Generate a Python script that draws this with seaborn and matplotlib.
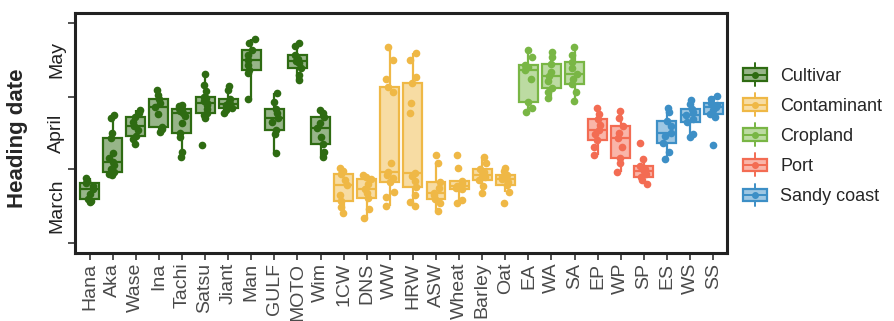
import numpy as np
import pandas as pd
import matplotlib
matplotlib.use("Agg")
import matplotlib.pyplot as plt
import matplotlib.colors as mcolors
from matplotlib.legend_handler import HandlerBase
from matplotlib.patches import Rectangle, Patch
from matplotlib.lines import Line2D
import seaborn as sns

# Heading dates as day of year, one list per accession
groups = ["Cultivar", "Contaminant", "Cropland", "Port", "Sandy coast"]
group_colors = ["#2e6b12", "#efb846", "#79b645", "#f36c53", "#3d8fc6"]

cultivar_names = ["Hana", "Aka", "Wase", "Ina", "Tachi", "Satsu", "Jiant",
                  "Man", "GULF", "MOTO", "Wim"]
cultivar_days = [
    [77.1, 77.6, 78.4, 80.5, 82.5, 84.0, 85.1, 86.0, 87.2],
    [88.5, 89.0, 89.5, 89.7, 91.0, 92.5, 93.9, 95.5, 97.6, 103.9, 106.0, 112.3, 113.5],
    [101.4, 103.5, 104.7, 107.0, 108.9, 110.5, 112.7, 114.3, 115.6],
    [106.4, 107.5, 108.5, 113.9, 116.8, 118.5, 120.2, 122.0, 124.0],
    [95.9, 98.0, 104.3, 106.0, 110.0, 113.0, 114.3, 115.0, 115.6, 116.0, 116.5, 117.2, 117.7],
    [101.0, 112.3, 113.5, 114.3, 116.0, 117.5, 118.5, 119.5, 120.5, 121.0, 123.5, 126.0, 130.6],
    [114.3, 115.5, 116.4, 117.5, 118.1, 119.0, 120.2, 124.0, 125.6],
    [120.2, 131.0, 132.3, 134.5, 136.5, 138.5, 140.7, 143.6, 145.3],
    [97.6, 105.5, 107.2, 110.5, 112.3, 114.5, 116.0, 118.9, 122.7],
    [128.1, 130.0, 133.2, 135.0, 136.0, 137.0, 138.6, 142.3, 143.6],
    [95.9, 98.0, 101.4, 104.3, 108.1, 110.0, 112.7, 114.5, 115.6],
]

contaminant_names = ["1CW", "DNS", "WW", "HRW", "ASW", "Wheat", "Barley", "Oat"]
contaminant_days = [
    [72.5, 75.0, 77.6, 80.0, 84.2, 86.3, 88.8, 90.0, 91.4],
    [70.5, 74.0, 78.8, 81.0, 82.6, 84.5, 86.8, 87.6, 88.4],
    [75.5, 79.2, 81.3, 85.5, 87.0, 88.5, 89.7, 93.5, 123.1, 125.2, 128.6, 136.5, 141.9],
    [75.5, 77.0, 80.0, 83.4, 86.0, 88.0, 89.3, 114.3, 118.5, 126.9, 129.4, 136.5, 139.4],
    [73.4, 76.5, 78.4, 80.0, 80.9, 83.0, 85.5, 93.4, 96.8],
    [76.7, 78.0, 82.6, 83.0, 83.8, 85.0, 85.9, 91.4, 96.8],
    [80.9, 84.0, 86.3, 87.5, 88.4, 89.5, 90.9, 93.5, 95.9],
    [76.7, 81.3, 84.2, 85.5, 86.8, 87.6, 88.4, 90.0, 91.4],
]

cropland_names = ["EA", "WA", "SA"]
cropland_days = [
    [114.8, 116.4, 118.9, 128.6, 132.3, 133.5, 134.4, 137.7, 140.7],
    [120.6, 123.0, 124.8, 127.5, 129.8, 131.5, 134.8, 137.7, 139.8],
    [119.4, 123.1, 126.5, 128.6, 130.6, 133.0, 135.7, 138.5, 141.9],
]

port_names = ["EP", "WP", "SP"]
port_days = [
    [96.8, 100.0, 103.1, 105.5, 107.2, 109.5, 111.8, 114.0, 116.4],
    [89.7, 93.4, 95.5, 100.0, 103.9, 106.0, 108.9, 112.3, 115.2],
    [84.7, 86.5, 87.6, 89.0, 90.1, 91.0, 92.2, 95.1, 101.8],
]

sandy_names = ["ES", "WS", "SS"]
sandy_days = [
    [95.1, 98.0, 101.8, 104.5, 106.0, 109.0, 111.0, 114.8, 116.4],
    [104.3, 105.5, 110.6, 112.0, 113.5, 114.8, 116.0, 118.0, 119.8],
    [101.0, 112.5, 113.9, 115.5, 116.8, 117.7, 118.5, 120.0, 121.4],
]

# Month starts (day of year) and the month names shown between them
month_starts = [60, 91, 121, 152]
month_labels = ["March", "April", "May"]

group_names = [cultivar_names, contaminant_names, cropland_names, port_names, sandy_names]
group_days = [cultivar_days, contaminant_days, cropland_days, port_days, sandy_days]

rows = []
for g, names, days in zip(groups, group_names, group_days):
    for name, vals in zip(names, days):
        for v in vals:
            rows.append({"group": g, "line": name, "day": v})
df = pd.DataFrame(rows)
order = [n for names in group_names for n in names]


def lighten(c, amount=0.5):
    rgb = np.array(mcolors.to_rgb(c))
    return tuple(rgb + (1 - rgb) * amount)


sns.set_theme(style="white")
plt.rcParams["font.family"] = ["Liberation Sans", "DejaVu Sans"]

fig = plt.figure(figsize=(8.95, 3.21), dpi=100)
ax = fig.add_axes([0.0838, 0.2118, 0.7285, 0.7477])

np.random.seed(3)
for g, c in zip(groups, group_colors):
    sub = df[df["group"] == g]
    sns.boxplot(data=sub, x="line", y="day", order=order, ax=ax,
                color=lighten(c, 0.5), linecolor=c, saturation=1,
                width=0.82, showfliers=False, showcaps=False, linewidth=1.6)
    sns.stripplot(data=sub, x="line", y="day", order=order, ax=ax,
                  color=c, size=5.5, jitter=0.18, linewidth=0, zorder=5)

ax.set_xlim(-0.63, len(order) - 0.4)
ax.set_ylim(55.8, 156.1)
ax.set_xlabel("")
ax.set_ylabel("Heading date", fontsize=16, fontweight="bold")
ax.yaxis.set_label_coords(-0.072, 0.48)

ax.set_yticks(month_starts)
ax.set_yticklabels([])
mids = [(a + b) / 2 for a, b in zip(month_starts[:-1], month_starts[1:])]
ax.set_yticks(mids, minor=True)
ax.set_yticklabels(month_labels, minor=True, rotation=90, va="center",
                   fontsize=14, color="#222222")
ax.tick_params(axis="y", which="major", length=5, width=1.2, color="#333333",
               direction="out", left=True)
ax.tick_params(axis="y", which="minor", length=0, pad=7, left=True)
ax.tick_params(axis="x", length=5, width=1.2, color="#333333", direction="out",
               bottom=True, pad=2)
plt.setp(ax.get_xticklabels(), rotation=90, fontsize=14, color="#4a4a4a")

for s in ax.spines.values():
    s.set_linewidth(2.2)
    s.set_color("#222222")


class BoxHandler(HandlerBase):
    def create_artists(self, legend, orig_handle, xdescent, ydescent,
                       width, height, fontsize, trans):
        edge = orig_handle.get_edgecolor()
        face = orig_handle.get_facecolor()
        x0, y0 = -xdescent, -ydescent
        cx = x0 + width / 2
        rect = Rectangle((x0, y0 + 0.08 * height), width, 0.84 * height,
                         facecolor=face, edgecolor=edge, linewidth=1.6,
                         transform=trans)
        whisk = Line2D([cx, cx], [y0 - 0.25 * height, y0 + 1.25 * height],
                       color=edge, linewidth=1.4, transform=trans)
        med = Line2D([x0, x0 + width], [y0 + 0.5 * height] * 2,
                     color=edge, linewidth=1.4, transform=trans)
        dot = Line2D([cx], [y0 + 0.5 * height], marker="o", markersize=4,
                     color=edge, linestyle="", transform=trans)
        return [whisk, rect, med, dot]


handles = [Patch(facecolor=lighten(c, 0.5), edgecolor=c, label=g)
           for g, c in zip(groups, group_colors)]
fig.legend(handles=handles, loc="center left", bbox_to_anchor=(0.812, 0.576),
           frameon=False, fontsize=13, handler_map={Patch: BoxHandler()},
           handlelength=1.33, handleheight=0.92, labelspacing=0.68,
           handletextpad=0.72, borderpad=0.4)

fig.savefig("out.png", dpi=100)
